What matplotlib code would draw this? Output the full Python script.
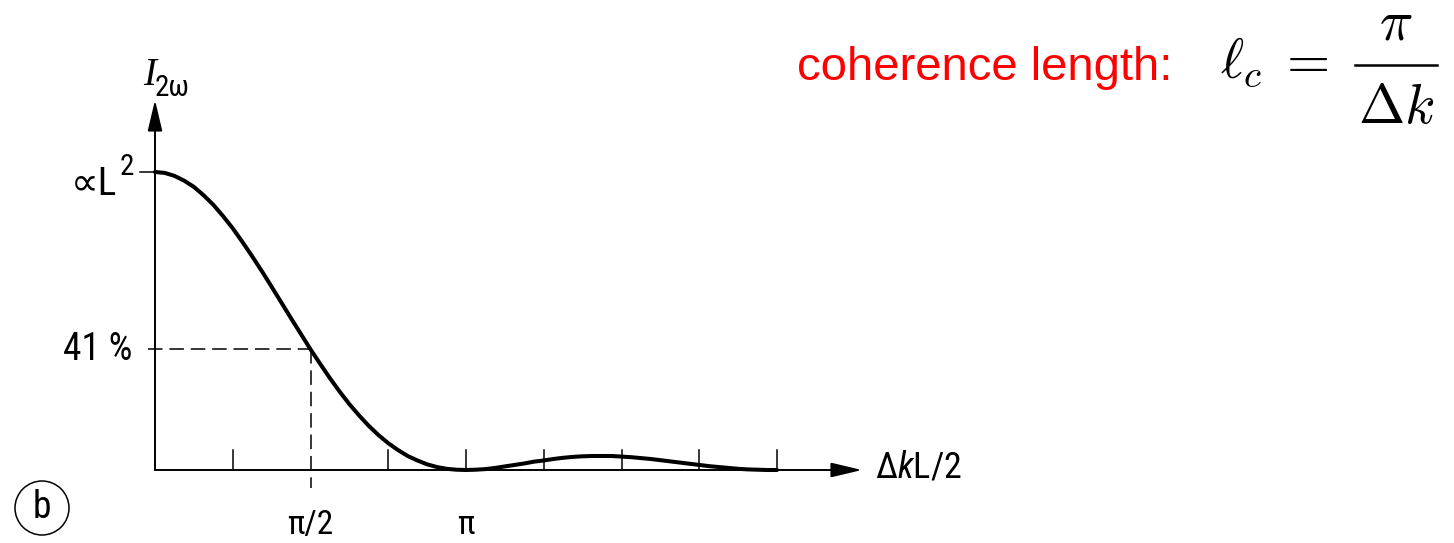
"""Second-harmonic intensity vs phase mismatch (sinc^2 curve) with coherence length note."""

import matplotlib
matplotlib.use("Agg")
from matplotlib import pyplot as plt
from matplotlib.lines import Line2D
from matplotlib.patches import Ellipse
import numpy as np

# curve: x in units of pi/32, y relative to the peak (L^2)
x_steps = np.arange(0, 65)
intensity = [
    1.000, 0.997, 0.987, 0.971, 0.950, 0.922, 0.890, 0.852,
    0.811, 0.765, 0.717, 0.667, 0.615, 0.562, 0.509, 0.457,
    0.405, 0.356, 0.308, 0.263, 0.221, 0.183, 0.148, 0.117,
    0.090, 0.067, 0.047, 0.032, 0.019, 0.010, 0.004, 0.001,
    0.000, 0.001, 0.003, 0.007, 0.012, 0.017, 0.022, 0.028,
    0.032, 0.037, 0.041, 0.044, 0.046, 0.047, 0.047, 0.047,
    0.045, 0.043, 0.040, 0.037, 0.033, 0.029, 0.025, 0.021,
    0.017, 0.013, 0.010, 0.007, 0.004, 0.002, 0.001, 0.000,
    0.000,
]
tick_quarters = [1, 3, 4, 5, 6, 7, 8]      # small ticks at k*pi/4
half_point_x = np.pi / 2
half_point_y = 0.405                      # "41 %"
x_labels = [(np.pi / 2, "\u03c0/2"), (np.pi, "\u03c0")]

LABEL_FONT = ["Roboto Condensed", "Liberation Sans", "DejaVu Sans"]

plt.rcParams.update({
    "font.family": LABEL_FONT,
    "mathtext.fontset": "custom",
    "mathtext.rm": "Roboto Condensed",
    "mathtext.it": "Roboto Condensed:italic",
})

W, H = 1454, 543
X0, Y0 = 155, 470          # pixel position of the origin
PX_X = np.pi / 311         # data units per pixel along x
PX_Y = 1 / 298             # data units per pixel along y

fig = plt.figure(figsize=(W / 100, H / 100), dpi=100)
ax = fig.add_axes([0, 0, 1, 1])
ax.set_xlim(-X0 * PX_X, (W - X0) * PX_X)
ax.set_ylim(-(H - Y0) * PX_Y, Y0 * PX_Y)
ax.axis("off")

x = np.asarray(x_steps) * np.pi / 32
ax.plot(x, intensity, color="black", linewidth=2.9, solid_capstyle="round", zorder=3)

# axes with arrow heads
arrow = dict(arrowstyle="-|>,head_length=1.9,head_width=0.45", color="black",
             linewidth=1.4, shrinkA=0, shrinkB=0)
ax.annotate("", xy=(0, 370 * PX_Y), xytext=(0, 0), arrowprops=arrow)
ax.annotate("", xy=(707 * PX_X, 0), xytext=(0, 0), arrowprops=arrow)

for q in tick_quarters:
    ax.plot([q * np.pi / 4] * 2, [0, 20 * PX_Y], color="black", linewidth=1.1)
ax.plot([-15 * PX_X, 0], [1, 1], color="black", linewidth=1.1)

dash = (0, (9.5, 4.5))
ax.plot([-7 * PX_X, half_point_x], [half_point_y, half_point_y],
        color="black", linewidth=1.1, linestyle=dash)
ax.plot([half_point_x, half_point_x], [half_point_y, -18 * PX_Y],
        color="black", linewidth=1.1, linestyle=dash)

# labels
ax.text(-38 * PX_X, 1 - 23 * PX_Y, "\u221dL", ha="right", va="baseline", fontsize=28)
ax.text(-35 * PX_X, 1 - 3 * PX_Y, "2", ha="left", va="baseline", fontsize=21)
ax.text(-23 * PX_X, half_point_y, "41 %", ha="right", va="center", fontsize=27)
for xv, lab in x_labels:
    ax.text(xv, -64 * PX_Y, lab, ha="center", va="baseline", fontsize=24)
ax.text(720 * PX_X, 2 * PX_Y, "\u0394$k$L/2", ha="left", va="center", fontsize=26)
ax.text(-12 * PX_X, 385 * PX_Y, "I", ha="left", va="baseline", fontsize=28,
        family="Liberation Serif", style="italic")
ax.text(0, 374 * PX_Y, "2\u03c9", ha="left", va="baseline", fontsize=21)

ax.add_patch(Ellipse((42 / W, 1 - 508 / H), 54 / W, 54 / H, transform=ax.transAxes,
                     fill=False, edgecolor="black", linewidth=1.1))
ax.text(42 / W, 1 - 507 / H, "b", transform=ax.transAxes, ha="center", va="center",
        fontsize=27)

# coherence length note, fraction set by hand for a taller display-style layout
fig.text(797 / W, 1 - 68 / H, "coherence length:", color="red", ha="left",
         va="center", fontsize=34, family="Liberation Sans")
fig.text(1220 / W, 1 - 78 / H, r"$\ell_c\;=$", ha="left", va="baseline",
         fontsize=40, math_fontfamily="cm")
fig.text(1396 / W, 1 - 40 / H, r"$\pi$", ha="center", va="baseline",
         fontsize=40, math_fontfamily="cm")
fig.text(1396 / W, 1 - 123 / H, r"$\Delta k$", ha="center", va="baseline",
         fontsize=40, math_fontfamily="cm")
fig.add_artist(Line2D([1355 / W, 1437 / W], [1 - 65 / H, 1 - 65 / H],
                      transform=fig.transFigure, color="black", linewidth=1.8))

fig.savefig("out.png", dpi=100)
plt.close(fig)
